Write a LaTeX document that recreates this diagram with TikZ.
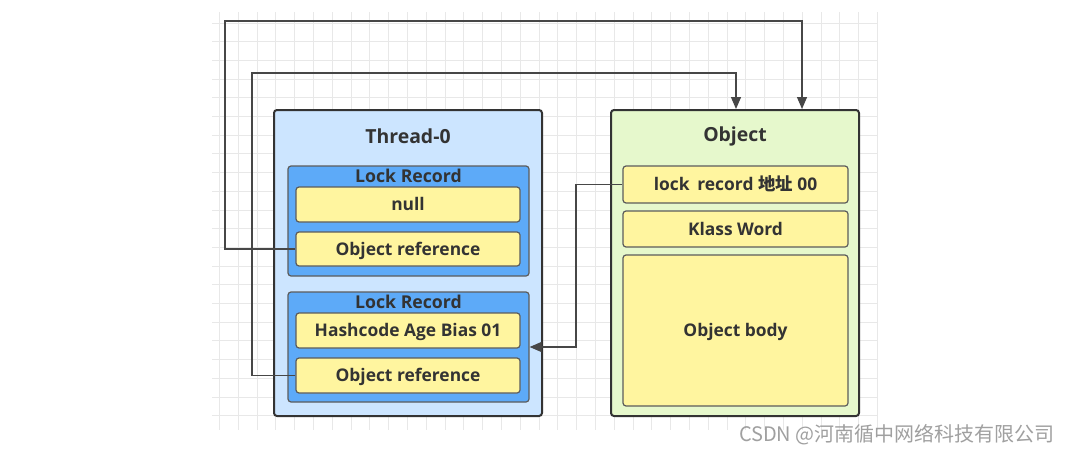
\documentclass[tikz,border=0pt]{standalone}
\usepackage{fontspec}
\setmainfont{Open Sans}
\newfontfamily\cjk{Noto Sans CJK SC}
\usetikzlibrary{arrows.meta}
\definecolor{ink}{HTML}{333333}
\definecolor{threadfill}{HTML}{CCE5FF}
\definecolor{lrfill}{HTML}{5DAAF8}
\definecolor{cellfill}{HTML}{FFF59F}
\definecolor{objfill}{HTML}{E6F8CC}
\definecolor{gridc}{HTML}{E8E8E8}
\definecolor{wm}{HTML}{A0A0A0}
\tikzset{
  outerbox/.style={draw=ink, line width=2pt, rounded corners=3pt, inner sep=0pt},
  lrbox/.style={draw=ink!80, line width=1.2pt, fill=lrfill, rounded corners=3pt, inner sep=0pt},
  cell/.style={draw=ink!80, line width=1.2pt, fill=cellfill, rounded corners=3pt, inner sep=0pt,
     font=\fontsize{17.4}{19}\selectfont\bfseries, text=ink, text height=12.5pt, text depth=0pt},
  titletxt/.style={font=\fontsize{19.4}{21}\selectfont\bfseries, text=ink, inner sep=0pt},
  lrtxt/.style={font=\fontsize{17.7}{19}\selectfont\bfseries, text=ink, inner sep=0pt},
  conn/.style={draw=ink!90, line width=1.3pt, -{Triangle[length=12pt,width=10pt]}},
  gridline/.style={draw=gridc, line width=0.9pt}
}
\begin{document}
\begin{tikzpicture}[x=1pt,y=-1pt]
\useasboundingbox (0,0) rectangle (1069,455);
\fill[white] (0,0) rectangle (1069,455);
% grid
\begin{scope}
\clip (212,12) rectangle (878,430);
\foreach \i in {0,...,35} \draw[gridline] ({219.5+18.8*\i},12) -- ++(0,418);
\foreach \j in {0,...,21} \draw[gridline] (212,{23+18.7*\j}) -- ++(666,0);
\end{scope}
% Thread
\node[outerbox, fill=threadfill, minimum width=268pt, minimum height=306pt] (thread) at (408,263) {};
\node[titletxt] (ttitle) at (408,136) {Thread-0};
\node[lrbox, minimum width=241pt, minimum height=110pt] (lr1) at (408.5,221) {};
\node[lrtxt] (lr1t) at (408.5,176) {Lock Record};
\node[cell, minimum width=224pt, minimum height=35pt] (null) at (408,204.5) {null};
\node[cell, minimum width=224pt, minimum height=34pt] (oref1) at (408,249) {Object reference};
\node[lrbox, minimum width=241pt, minimum height=110pt] (lr2) at (408.5,347) {};
\node[lrtxt] (lr2t) at (408.5,302) {Lock Record};
\node[cell, minimum width=224pt, minimum height=35pt] (hash) at (408,330.5) {Hashcode Age Bias 01};
\node[cell, minimum width=224pt, minimum height=35pt] (oref2) at (408,375.5) {Object reference};
% Object
\node[outerbox, fill=objfill, minimum width=248pt, minimum height=306pt] (obj) at (735,263) {};
\node[titletxt] (otitle) at (735,136) {Object};
\node[cell, minimum width=225pt, minimum height=37pt] (lockrec) at (735.5,184.5) {lock\hspace{0.45em}record {\cjk\bfseries 地址} 00};
\node[cell, minimum width=225pt, minimum height=36pt] (klass) at (735.5,229) {Klass Word};
\node[cell, minimum width=225pt, minimum height=151pt] (body) at (735.5,330.5) {Object body};
% connectors
\coordinate (c1) at (225,21);
\coordinate (c2) at (252,73);
\coordinate (c3) at (576,347);
\draw[conn] (oref1.west) -| (c1) -| ([xshift=67pt]obj.north);
\draw[conn] (oref2.west) -| (c2) -| ([xshift=1pt]obj.north);
\draw[conn] (lockrec.west) -| (c3) -- (lr2.east);
% watermark
\node[font=\cjk\fontsize{20}{22}\selectfont, text=wm, anchor=east, inner sep=0pt] (wmk) at (1055,435) {CSDN @河南循中网络科技有限公司};
\end{tikzpicture}
\end{document}
